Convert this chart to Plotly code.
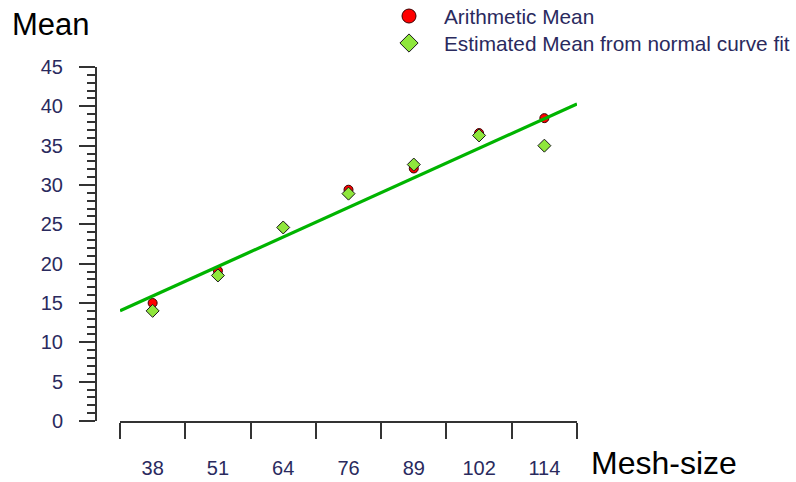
import plotly.graph_objects as go

# ---- data ----
mesh_sizes = ["38", "51", "64", "76", "89", "102", "114"]
arithmetic_mean = [15.0, 19.1, 24.6, 29.4, 32.1, 36.6, 38.5]
estimated_mean = [14.0, 18.5, 24.6, 28.9, 32.6, 36.3, 35.0]
fit_line_ends = [14.0, 40.3]   # fitted line value at left and right axis edges

W, H = 796, 482


def px(x):
    return x / W


def py(y):
    return 1 - y / H


idx = list(range(len(mesh_sizes)))
x_lo, x_hi = -0.5, len(mesh_sizes) - 0.5

FONT = "Liberation Sans, Arial, sans-serif"
TICKFONT = dict(family=FONT, size=20, color="#2a2a5e")
AXCOL = "#333333"
LEGFONT = dict(family=FONT, size=20.8, color="#2a2a5e")

fig = go.Figure()

fig.add_trace(go.Scatter(
    x=idx, y=arithmetic_mean, mode="markers", showlegend=False,
    marker=dict(symbol="circle", size=9, color="#ff0000",
                line=dict(color="#3a0000", width=1)),
))
fig.add_trace(go.Scatter(
    x=[x_lo, x_hi], y=fit_line_ends, mode="lines", showlegend=False,
    line=dict(color="#00b400", width=3.3), hoverinfo="skip",
))
fig.add_trace(go.Scatter(
    x=idx, y=estimated_mean, mode="markers", showlegend=False,
    marker=dict(symbol="diamond", size=10, color="#8fe63c",
                line=dict(color="#1a1a1a", width=1)),
))
# legend entries (bigger symbols, as in the reference legend)
fig.add_trace(go.Scatter(
    x=[None], y=[None], mode="markers", name="Arithmetic Mean",
    legend="legend",
    marker=dict(symbol="circle", size=14, color="#ff0000",
                line=dict(color="#3a0000", width=1)),
))
fig.add_trace(go.Scatter(
    x=[None], y=[None], mode="markers",
    name="Estimated Mean from normal curve fit", legend="legend2",
    marker=dict(symbol="diamond", size=14, color="#8fe63c",
                line=dict(color="#1a1a1a", width=1)),
))

legend_common = dict(
    xanchor="left", yanchor="top", bgcolor="rgba(0,0,0,0)",
    itemwidth=60, itemsizing="trace", font=LEGFONT,
)

fig.update_layout(
    width=W, height=H,
    margin=dict(l=0, r=0, t=0, b=0, autoexpand=False),
    paper_bgcolor="white", plot_bgcolor="white",
    showlegend=True,
    legend=dict(x=px(374), y=py(-4), **legend_common),
    legend2=dict(x=px(374), y=py(23), **legend_common),
    xaxis=dict(
        domain=[px(120), px(577)], range=[x_lo, x_hi], automargin=False,
        tickmode="array", tickvals=idx, ticktext=mesh_sizes,
        ticks="", showgrid=False, zeroline=False,
        showline=True, linecolor=AXCOL, linewidth=2,
        tickfont=TICKFONT, ticklabelstandoff=28,
        minor=dict(ticks="outside", tick0=x_lo, dtick=1, ticklen=16,
                   tickwidth=2, tickcolor=AXCOL, showgrid=False),
    ),
    yaxis=dict(
        domain=[py(421), py(67)], range=[0, 45], automargin=False,
        anchor="free", position=px(96),
        tickmode="linear", tick0=0, dtick=5,
        ticks="outside", ticklen=16, tickwidth=2, tickcolor=AXCOL,
        showgrid=False, zeroline=False,
        showline=True, linecolor=AXCOL, linewidth=2,
        tickfont=TICKFONT, ticklabelstandoff=12,
        minor=dict(ticks="outside", dtick=1, ticklen=8, tickwidth=1.5,
                   tickcolor=AXCOL, showgrid=False),
    ),
    annotations=[
        dict(text="Mean", x=px(10), y=py(24), xref="paper", yref="paper",
             xanchor="left", yanchor="middle", showarrow=False,
             font=dict(family=FONT, size=31, color="#000000")),
        dict(text="Mesh-size", x=px(590), y=py(482), xref="paper", yref="paper",
             xanchor="left", yanchor="bottom", showarrow=False, borderpad=0,
             font=dict(family=FONT, size=32, color="#000000")),
    ],
)

fig.write_html("out.html", config={"displayModeBar": False},
               post_script="document.body.style.margin='0';")
